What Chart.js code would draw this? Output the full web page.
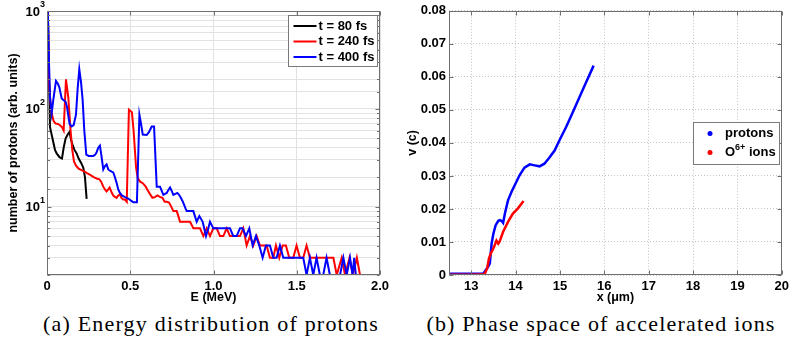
<!DOCTYPE html>
<html lang="en">
<head>
<meta charset="UTF-8">
<title>Proton energy spectra and ion phase space</title>
<script src="https://cdn.jsdelivr.net/npm/chart.js"></script>
<style>
  body { margin: 0; background: #fff; }
  #page { position: relative; width: 793px; height: 346px; overflow: hidden; }
  .panel { position: absolute; top: 0; height: 305px; }
  .caption { position: absolute; top: 311px; font-family: "Liberation Serif", serif; font-size: 22px; letter-spacing: 1.2px; color: #000; white-space: nowrap; transform: translateX(-50%); }
</style>
</head>
<body>
<div id="page">
  <div class="panel" style="left:0;width:396px"><canvas id="energyChart"></canvas></div>
  <div class="panel" style="left:396px;width:397px"><canvas id="phaseChart"></canvas></div>
  <div class="caption" style="left:211px">(a) Energy distribution of protons</div>
  <div class="caption" style="left:601px">(b) Phase space of accelerated ions</div>
</div>
<script>
// ---- (a) proton energy spectra, E in MeV, counts in arb. units ----
const energy80 = [0.005, 0.018, 0.035, 0.048, 0.058, 0.075, 0.09, 0.1, 0.112, 0.125,
  0.135, 0.145, 0.155, 0.165, 0.178, 0.19, 0.205, 0.218, 0.228, 0.238];
const count80 = [1000, 65, 48, 38, 35, 32, 31, 40, 50, 55,
  58, 48, 42, 38, 35, 31, 28, 25, 20, 12];

const energy240 = [0.005, 0.012, 0.02, 0.028, 0.04, 0.05, 0.065, 0.078, 0.09, 0.1,
  0.114, 0.128, 0.142, 0.152, 0.162, 0.175, 0.19, 0.21, 0.222, 0.24,
  0.262, 0.28, 0.302, 0.315, 0.325, 0.338, 0.348, 0.358, 0.368, 0.376,
  0.388, 0.398, 0.408, 0.418, 0.428, 0.438, 0.448, 0.458, 0.468, 0.479,
  0.492, 0.51, 0.52, 0.535, 0.545, 0.559, 0.572, 0.583, 0.593, 0.603,
  0.618, 0.633, 0.648, 0.663, 0.678, 0.693, 0.707, 0.72, 0.733, 0.746,
  0.759, 0.779, 0.789, 0.799, 0.82, 0.84, 0.859, 0.869, 0.879, 0.899,
  0.919, 0.939, 0.959, 0.979, 0.999, 1.019, 1.039, 1.059, 1.079, 1.099,
  1.159, 1.179, 1.199, 1.219, 1.239, 1.259, 1.279, 1.299, 1.319, 1.339,
  1.359, 1.375, 1.395, 1.415, 1.435, 1.455, 1.479, 1.499, 1.519, 1.539,
  1.559, 1.579, 1.72, 1.74, 1.77, 1.79, 1.817, 1.837, 1.861, 1.88];
const count240 = [1000, 190, 120, 90, 75, 71, 70, 68, 65, 60,
  200, 130, 59, 38, 29, 26, 24.5, 23.5, 23, 22,
  21, 20, 19.3, 19, 18, 16, 15, 14.3, 15, 15.7,
  14, 13, 12.6, 12.3, 13, 13.3, 12.2, 11.8, 11.8, 11.2,
  98, 92, 60, 25, 19.6, 18, 17.5, 16.8, 16, 14.9,
  13.5, 12.3, 12.5, 13, 12.6, 12.3, 11.2, 11.2, 11, 10,
  9, 9, 8, 7, 7, 7, 7, 6.5, 6, 6,
  6, 5, 6, 5, 6, 6, 5, 5, 6, 5,
  5, 6, 4, 5, 4, 5, 4, 4, 4, 3,
  3, 4, 3, 4, 4, 3, 3, 4, 3, 3,
  4, 3, 3, 2, 3, 2, 3, 2, 3, 2];

const energy400 = [0.005, 0.012, 0.018, 0.028, 0.038, 0.054, 0.066, 0.074, 0.088, 0.098,
  0.112, 0.12, 0.128, 0.136, 0.148, 0.16, 0.174, 0.184, 0.194, 0.204,
  0.214, 0.224, 0.236, 0.25, 0.265, 0.278, 0.29, 0.298, 0.308, 0.318,
  0.328, 0.338, 0.348, 0.358, 0.368, 0.378, 0.388, 0.398, 0.408, 0.418,
  0.428, 0.438, 0.45, 0.468, 0.488, 0.505, 0.518, 0.54, 0.555, 0.565,
  0.575, 0.599, 0.613, 0.629, 0.643, 0.659, 0.679, 0.689, 0.699, 0.709,
  0.719, 0.729, 0.739, 0.749, 0.759, 0.771, 0.783, 0.793, 0.803, 0.813,
  0.823, 0.833, 0.839, 0.879, 0.899, 0.915, 0.935, 0.955, 0.969, 0.979,
  0.999, 1.099, 1.119, 1.139, 1.159, 1.175, 1.195, 1.215, 1.235, 1.255,
  1.275, 1.295, 1.315, 1.339, 1.359, 1.379, 1.399, 1.419, 1.539, 1.559,
  1.579, 1.599, 1.619, 1.639, 1.659, 1.679, 1.699, 1.76, 1.78, 1.8,
  1.82, 1.835, 1.845, 1.855, 1.98];
const count400 = [1000, 300, 130, 90, 124, 193, 180, 166, 128, 123,
  118, 105, 85, 70, 66, 68, 87, 160, 254, 190,
  124, 60, 34, 33, 33, 33, 34, 36, 40, 42,
  32, 24, 26, 27, 24, 23.3, 22.8, 22.4, 20, 17.5,
  15, 13.8, 13, 12.5, 12.1, 11.5, 11.1, 11.1, 87, 70,
  54.6, 54, 58, 66, 66, 16, 16, 14.5, 13.2, 13.5,
  13.8, 14.8, 15.7, 14.5, 13.2, 13.5, 13.8, 13.2, 12.4, 11.5,
  10.5, 9.5, 9, 9, 7, 8, 7, 5, 6, 7,
  6, 6, 5, 5, 6, 6, 5, 6, 4, 5,
  4, 3, 4, 4, 3, 3, 4, 3, 3, 2,
  3, 2, 3, 2, 2, 3, 2, 2, 3, 2,
  3, 2, 3, 2, 2];

const energyTicks = [0, 0.5, 1.0, 1.5, 2.0];

// ---- (b) phase space, x in um, v in units of c ----
const protonX = [12.5, 13.0, 13.27, 13.33, 13.38, 13.42, 13.46, 13.5, 13.55, 13.61,
  13.65, 13.69, 13.72, 13.76, 13.83, 13.91, 14.0, 14.09, 14.2, 14.32,
  14.43, 14.54, 14.65, 14.76, 14.88, 14.99, 15.14, 15.29, 15.44, 15.59, 15.76];
const protonV = [0.0004, 0.0004, 0.0004, 0.0015, 0.0025, 0.0035, 0.0095, 0.0125, 0.015, 0.0164,
  0.0166, 0.0163, 0.0158, 0.0186, 0.0226, 0.0252, 0.0277, 0.0302, 0.0325, 0.0335,
  0.0332, 0.0329, 0.0337, 0.0355, 0.0377, 0.0408, 0.0448, 0.0493, 0.0538, 0.0584, 0.0634];
const oxygenX = [12.5, 13.0, 13.3, 13.36, 13.4, 13.44, 13.48, 13.53, 13.57, 13.61,
  13.64, 13.72, 13.83, 13.94, 14.05, 14.18];
const oxygenV = [0.0001, 0.0001, 0.0002, 0.002, 0.005, 0.0065, 0.0075, 0.009, 0.0104, 0.0095,
  0.0101, 0.0131, 0.0161, 0.0186, 0.0201, 0.0224];

const positionTicks = [13, 14, 15, 16, 17, 18, 19, 20];
const velocityTicks = [0, 0.01, 0.02, 0.03, 0.04, 0.05, 0.06, 0.07, 0.08];

const SANS = "'Liberation Sans', Arial, sans-serif";
const tickFont = { family: SANS, size: 13, weight: 'bold' };
const titleFont = { family: SANS, size: 12.5, weight: 'bold' };

function zipPoints(xs, ys) {
  return xs.map((x, i) => ({ x: x, y: ys[i] }));
}

function isPowerOfTen(v) {
  const p = Math.log10(v);
  return Math.abs(p - Math.round(p)) < 1e-6;
}

// box, inward tick marks, 10^n labels and the legend, drawn the way MATLAB does it
const matlabFrame = {
  id: 'matlabFrame',
  afterDraw(chart, args, opts) {
    const { ctx, chartArea: a, scales } = chart;
    const L = Math.round(a.left) + 0.5, R = Math.round(a.right) - 0.5;
    const T = Math.round(a.top) + 0.5, B = Math.round(a.bottom) - 0.5;
    ctx.save();
    ctx.strokeStyle = '#6f6f6f';
    ctx.lineWidth = 1;
    ctx.beginPath();
    scales.x.ticks.forEach(t => {
      const px = Math.round(scales.x.getPixelForValue(t.value)) + 0.5;
      ctx.moveTo(px, B); ctx.lineTo(px, B - 4);
      ctx.moveTo(px, T); ctx.lineTo(px, T + 4);
    });
    scales.y.ticks.forEach(t => {
      const py = Math.round(scales.y.getPixelForValue(t.value)) + 0.5;
      const len = (opts.logY && !isPowerOfTen(t.value)) ? 2.5 : 4;
      ctx.moveTo(L, py); ctx.lineTo(L + len, py);
      ctx.moveTo(R, py); ctx.lineTo(R - len, py);
    });
    ctx.stroke();
    ctx.strokeRect(L, T, R - L, B - T);

    // "10" with a raised exponent for the log axis
    if (opts.logY) {
      ctx.fillStyle = '#000';
      ctx.textBaseline = 'middle';
      ctx.textAlign = 'left';
      scales.y.ticks.forEach(t => {
        if (!isPowerOfTen(t.value)) return;
        const py = scales.y.getPixelForValue(t.value);
        const exp = String(Math.round(Math.log10(t.value)));
        ctx.font = 'bold 9px ' + SANS;
        const ew = ctx.measureText(exp).width;
        ctx.font = 'bold 13px ' + SANS;
        const bw = ctx.measureText('10').width;
        const x0 = a.left - 2 - ew - bw;
        ctx.fillText('10', x0, py + 1);
        ctx.font = 'bold 9px ' + SANS;
        ctx.fillText(exp, x0 + bw, py - 6);
      });
    }

    const lg = opts.legend;
    if (lg) {
      const bx = Math.round(a.right - lg.right - lg.width) + 0.5;
      const by = Math.round(lg.centerY ? (a.top + a.bottom - lg.height) / 2 : a.top + lg.top) + 0.5;
      ctx.fillStyle = '#ffffff';
      ctx.fillRect(bx, by, lg.width, lg.height);
      ctx.strokeStyle = '#7a7a7a';
      ctx.lineWidth = 1;
      ctx.strokeRect(bx, by, lg.width, lg.height);
      ctx.textBaseline = 'middle';
      ctx.textAlign = 'left';
      lg.rows.forEach((row, i) => {
        const ds = chart.data.datasets[row.dataset];
        const y = by + lg.firstRow + i * lg.rowGap;
        if (lg.marker === 'line') {
          ctx.strokeStyle = ds.borderColor;
          ctx.lineWidth = 2;
          ctx.beginPath();
          ctx.moveTo(bx + 5, y); ctx.lineTo(bx + 28, y);
          ctx.stroke();
        } else {
          ctx.fillStyle = ds.borderColor;
          ctx.beginPath();
          ctx.arc(bx + 16.5, y, 2.5, 0, Math.PI * 2);
          ctx.fill();
        }
        ctx.fillStyle = '#000';
        ctx.font = 'bold 13px ' + SANS;
        let tx = bx + lg.textX;
        ctx.fillText(row.text, tx, y);
        if (row.sup) {
          tx += ctx.measureText(row.text).width;
          ctx.font = 'bold 9px ' + SANS;
          ctx.fillText(row.sup, tx, y - 5);
          tx += ctx.measureText(row.sup).width;
          ctx.font = 'bold 13px ' + SANS;
          ctx.fillText(row.after, tx, y);
        }
      });
    }
    ctx.restore();
  }
};

// ---- chart (a) ----
new Chart(document.getElementById('energyChart'), {
  type: 'line',
  data: {
    datasets: [
      { label: 't = 80 fs', data: zipPoints(energy80, count80), borderColor: '#000000', borderWidth: 2, pointRadius: 0, order: 2 },
      { label: 't = 240 fs', data: zipPoints(energy240, count240), borderColor: '#ff0000', borderWidth: 2, pointRadius: 0, order: 1 },
      { label: 't = 400 fs', data: zipPoints(energy400, count400), borderColor: '#0000ff', borderWidth: 2, pointRadius: 0, order: 0 }
    ]
  },
  options: {
    responsive: true,
    maintainAspectRatio: false,
    animation: false,
    layout: { padding: { top: 11, right: 16, left: 0, bottom: 0 } },
    plugins: {
      legend: { display: false },
      tooltip: { enabled: false },
      matlabFrame: {
        logY: true,
        legend: {
          right: 3, top: 4, width: 89, height: 51, firstRow: 10.5, rowGap: 15.5, textX: 30, marker: 'line',
          rows: [
            { dataset: 0, text: 't = 80 fs' },
            { dataset: 1, text: 't = 240 fs' },
            { dataset: 2, text: 't = 400 fs' }
          ]
        }
      }
    },
    scales: {
      x: {
        type: 'linear',
        min: 0,
        max: 2,
        afterBuildTicks: s => { s.ticks = energyTicks.map(v => ({ value: v })); },
        afterFit: s => { s.height = 30; },
        ticks: { font: tickFont, color: '#000', padding: 4, maxRotation: 0, callback: v => v === 0 ? '0' : v.toFixed(1) },
        grid: { color: '#e2e2e2', drawTicks: false },
        border: { display: false },
        title: { display: true, text: 'E (MeV)', font: titleFont, color: '#000', padding: 0 }
      },
      y: {
        type: 'logarithmic',
        min: 2,
        max: 1000,
        afterFit: s => { s.width = 47; },
        // labels are painted by matlabFrame so the exponent can be raised
        ticks: { font: tickFont, color: '#000', padding: 3, autoSkip: false, callback: () => '' },
        grid: { color: '#e2e2e2', drawTicks: false },
        border: { display: false },
        title: { display: true, text: 'number of protons (arb. units)', font: titleFont, color: '#000', padding: { top: 6, bottom: 0 } }
      }
    }
  },
  plugins: [matlabFrame]
});

// ---- chart (b) ----
new Chart(document.getElementById('phaseChart'), {
  type: 'scatter',
  data: {
    datasets: [
      { label: 'protons', data: zipPoints(protonX, protonV), borderColor: '#0000ff', backgroundColor: '#0000ff', showLine: true, borderWidth: 2.5, pointRadius: 0, order: 1 },
      { label: 'O6+ ions', data: zipPoints(oxygenX, oxygenV), borderColor: '#ff0000', backgroundColor: '#ff0000', showLine: true, borderWidth: 2.5, pointRadius: 0, order: 0 }
    ]
  },
  options: {
    responsive: true,
    maintainAspectRatio: false,
    animation: false,
    layout: { padding: { top: 10, right: 9, left: 0, bottom: 0 } },
    plugins: {
      legend: { display: false },
      tooltip: { enabled: false },
      matlabFrame: {
        logY: false,
        legend: {
          right: 3, centerY: true, width: 86, height: 42, firstRow: 11, rowGap: 19, textX: 31.5, marker: 'dot',
          rows: [
            { dataset: 0, text: 'protons' },
            { dataset: 1, text: 'O', sup: '6+', after: ' ions' }
          ]
        }
      }
    },
    scales: {
      x: {
        type: 'linear',
        min: 12.5,
        max: 20,
        afterBuildTicks: s => { s.ticks = positionTicks.map(v => ({ value: v })); },
        afterFit: s => { s.height = 30; },
        ticks: { font: tickFont, color: '#000', padding: 4, maxRotation: 0 },
        grid: { color: '#c4c4c4', drawTicks: false },
        border: { display: false, dash: [1, 2] },
        title: { display: true, text: 'x (\u03bcm)', font: titleFont, color: '#000', padding: 0 }
      },
      y: {
        type: 'linear',
        min: 0,
        max: 0.08,
        afterBuildTicks: s => { s.ticks = velocityTicks.map(v => ({ value: v })); },
        afterFit: s => { s.width = 53; },
        ticks: { font: tickFont, color: '#000', padding: 3, callback: v => v === 0 ? '0' : v.toFixed(2) },
        grid: { color: '#c4c4c4', drawTicks: false },
        border: { display: false, dash: [1, 2] },
        title: { display: true, text: 'v (c)', font: titleFont, color: '#000', padding: { top: 9, bottom: 0 } }
      }
    }
  },
  plugins: [matlabFrame]
});
</script>
</body>
</html>
